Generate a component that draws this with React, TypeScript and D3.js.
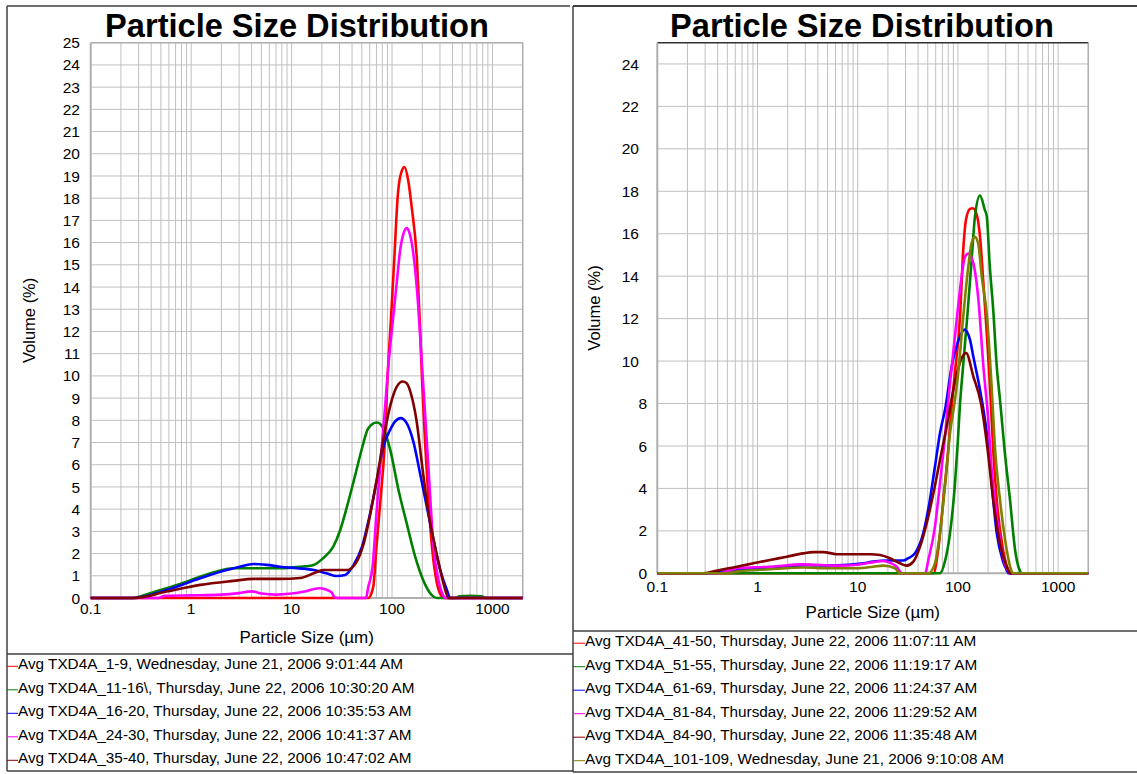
import React from 'react';
import * as d3 from 'd3';

type Pt = [number, number];

const X_TICKS = [0.1, 1, 10, 100, 1000];
const X_TICK_LABELS = ['0.1', '1', '10', '100', '1000'];
const LEFT_Y_TICKS = [0, 1, 2, 3, 4, 5, 6, 7, 8, 9, 10, 11, 12, 13, 14, 15, 16, 17, 18, 19, 20, 21, 22, 23, 24, 25];
const RIGHT_Y_TICKS = [0, 2, 4, 6, 8, 10, 12, 14, 16, 18, 20, 22, 24];

const TITLE = 'Particle Size Distribution';
const X_TITLE = 'Particle Size (µm)';
const Y_TITLE = 'Volume (%)';

// ---- Left chart series ----
const L_RED: Pt[] = [[0.1, 0], [58, 0], [65, 0.5], [70, 2.3], [77, 4.5], [84, 6.7], [90, 9.8], [98, 12.7], [106, 15.5], [114, 18.1], [121, 19.0], [133, 19.4], [145, 18.8], [157, 17.6], [177, 15.2], [190, 12.2], [200, 9.6], [214, 6.9], [232, 4.2], [250, 2.3], [279, 0.7], [310, 0.1], [335, 0], [2000, 0]];
const L_GREEN: Pt[] = [[0.1, 0], [0.26, 0], [0.39, 0.21], [0.57, 0.44], [0.84, 0.69], [1.23, 0.96], [1.8, 1.19], [2.6, 1.34], [5.6, 1.34], [7.7, 1.34], [12, 1.4], [16.6, 1.49], [20.6, 1.79], [26, 2.31], [30.5, 3.06], [35.6, 4.11], [43.5, 5.62], [50.8, 6.82], [58, 7.64], [70.6, 7.9], [82, 7.64], [96, 6.67], [116, 4.86], [140, 3.36], [170, 1.86], [204, 0.81], [249, 0.13], [279, 0], [430, 0], [470, 0.08], [600, 0.1], [780, 0.08], [850, 0], [2000, 0]];
const L_BLUE: Pt[] = [[0.1, 0], [0.27, 0], [0.57, 0.36], [1.23, 0.89], [2.26, 1.26], [3.06, 1.41], [4.17, 1.53], [5.65, 1.49], [7.66, 1.41], [11.3, 1.34], [16.6, 1.26], [22.3, 1.11], [28.2, 0.99], [34.2, 1.04], [41.5, 1.49], [50.3, 2.31], [60.6, 3.81], [70.6, 5.3], [82.2, 6.82], [95.7, 7.57], [107, 7.94], [122, 8.1], [140, 7.87], [163, 7.04], [190, 5.62], [222, 4.11], [259, 2.61], [302, 1.26], [352, 0.36], [380, 0], [2000, 0]];
const L_MAGENTA: Pt[] = [[0.1, 0], [0.47, 0], [0.55, 0.1], [1, 0.12], [2, 0.15], [3, 0.22], [4, 0.3], [5, 0.2], [7, 0.15], [10, 0.2], [13, 0.28], [16, 0.38], [19, 0.44], [22, 0.38], [25, 0.25], [27, 0.02], [29, 0], [55, 0], [58, 0.5], [64, 1.4], [70, 3.8], [78, 6.5], [85, 8.5], [92, 10.5], [102, 12.5], [112, 14.3], [120, 15.6], [130, 16.4], [140, 16.65], [150, 16.4], [157, 16.0], [177, 13.9], [198, 10.6], [214, 8.2], [231, 5.8], [259, 2.3], [290, 0.8], [320, 0.15], [340, 0], [2000, 0]];
const L_BROWN: Pt[] = [[0.1, 0], [0.27, 0], [0.57, 0.29], [1.23, 0.59], [2.63, 0.77], [4.17, 0.86], [7.66, 0.86], [12.2, 0.9], [16.6, 1.11], [20.6, 1.26], [35.6, 1.26], [43.5, 1.56], [52.3, 2.46], [62.8, 4.11], [73.3, 5.77], [85.4, 7.57], [99.5, 8.92], [111.6, 9.52], [127.7, 9.75], [140, 9.67], [157, 9.07], [177, 7.87], [198, 6.07], [231, 3.81], [268, 2.31], [302, 1.26], [325, 0.66], [366, 0], [2000, 0]];

const LEFT_NAMES = [
  'Avg TXD4A_1-9, Wednesday, June 21, 2006 9:01:44 AM',
  'Avg TXD4A_11-16\\, Thursday, June 22, 2006 10:30:20 AM',
  'Avg TXD4A_16-20, Thursday, June 22, 2006 10:35:53 AM',
  'Avg TXD4A_24-30, Thursday, June 22, 2006 10:41:37 AM',
  'Avg TXD4A_35-40, Thursday, June 22, 2006 10:47:02 AM',
];
const LEFT_COLORS = ['#ff0000', '#008000', '#0000ff', '#ff00ff', '#800000'];
const LEFT_SERIES = [L_RED, L_GREEN, L_BLUE, L_MAGENTA, L_BROWN];

// ---- Right chart series ----
const R_RED: Pt[] = [[0.1, 0], [57, 0], [63.5, 1.1], [71.5, 3.46], [80, 5.8], [87, 8.0], [94, 9.6], [105, 12.1], [113, 15.25], [120.5, 16.67], [132, 17.17], [140.6, 17.2], [154, 16.9], [166, 15.88], [179.5, 13.68], [194, 11.32], [208, 8.96], [225, 5.82], [244, 3.46], [282, 1.1], [318, 0.15], [335, 0], [2000, 0]];
const R_GREEN: Pt[] = [[0.1, 0], [66, 0], [74.8, 0.63], [83.4, 1.89], [93.5, 4.24], [100, 6.3], [105, 8.0], [110, 9.2], [124, 12.1], [137, 14.78], [148, 16.82], [166, 17.8], [185, 17.14], [194, 16.82], [208, 14.46], [225, 12.42], [244, 9.75], [263, 8.17], [292, 5.82], [331, 3.46], [372, 1.1], [417, 0.1], [432, 0], [2000, 0]];
const R_BLUE: Pt[] = [[0.1, 0], [0.3, 0], [0.6, 0.15], [1, 0.25], [2, 0.33], [3, 0.38], [5, 0.37], [8, 0.4], [11.4, 0.47], [14.3, 0.55], [20, 0.6], [25, 0.6], [28.5, 0.6], [32, 0.71], [37.3, 0.94], [45.1, 1.89], [52.5, 3.46], [59, 5.03], [66.2, 6.6], [75, 7.8], [86.7, 9.75], [105, 11.16], [116, 11.48], [132, 11.0], [142.6, 10.2], [166, 8.65], [194, 6.6], [210, 5.0], [244, 1.89], [280, 0.6], [307, 0.15], [320, 0], [2000, 0]];
const R_MAGENTA: Pt[] = [[0.1, 0], [0.42, 0], [0.62, 0.24], [1.33, 0.31], [2.86, 0.42], [6.17, 0.36], [10, 0.4], [13.3, 0.5], [18, 0.58], [21, 0.5], [24.5, 0.31], [27.6, 0], [47, 0], [50.7, 0.63], [59, 2.2], [66.2, 4.24], [74.8, 6.6], [80.2, 8.17], [88, 10.0], [98, 12.1], [109, 14.0], [118, 14.93], [127, 15.06], [142.6, 14.6], [160, 12.9], [179.5, 9.75], [201, 7.2], [216, 5.03], [244, 2.67], [282, 0.78], [318, 0.1], [331, 0], [2000, 0]];
const R_BROWN: Pt[] = [[0.1, 0], [0.29, 0], [0.42, 0.16], [0.62, 0.31], [0.91, 0.47], [1.33, 0.63], [1.96, 0.78], [2.86, 0.94], [3.6, 1.0], [4.54, 1.0], [6.17, 0.9], [13.3, 0.9], [16.7, 0.86], [21, 0.71], [26.4, 0.47], [30.8, 0.36], [35.9, 0.55], [41.9, 1.26], [48.8, 2.36], [56.9, 3.77], [66.2, 5.34], [77.3, 6.92], [90, 8.65], [109, 10.14], [120.5, 10.38], [142.6, 9.27], [170, 8.0], [198, 5.82], [225, 3.46], [263, 1.41], [307, 0.31], [331, 0], [2000, 0]];
const R_OLIVE: Pt[] = [[0.1, 0], [0.49, 0], [0.62, 0.08], [1.33, 0.19], [2.86, 0.27], [5.3, 0.24], [9.8, 0.24], [14.3, 0.31], [18, 0.36], [23.6, 0.24], [26, 0], [50.7, 0], [59, 0.47], [66.2, 1.89], [74.8, 4.24], [83.4, 6.6], [93.5, 8.17], [101, 9.5], [113, 12.1], [127, 14.46], [137, 15.57], [148, 15.85], [160, 15.49], [172.6, 14.0], [195, 12.1], [216, 8.96], [235, 5.82], [263, 3.46], [307, 1.1], [343, 0.1], [355, 0], [2000, 0]];

const RIGHT_NAMES = [
  'Avg TXD4A_41-50, Thursday, June 22, 2006 11:07:11 AM',
  'Avg TXD4A_51-55, Thursday, June 22, 2006 11:19:17 AM',
  'Avg TXD4A_61-69, Thursday, June 22, 2006 11:24:37 AM',
  'Avg TXD4A_81-84, Thursday, June 22, 2006 11:29:52 AM',
  'Avg TXD4A_84-90, Thursday, June 22, 2006 11:35:48 AM',
  'Avg TXD4A_101-109, Wednesday, June 21, 2006 9:10:08 AM',
];
const RIGHT_COLORS = ['#ff0000', '#008000', '#0000ff', '#ff00ff', '#800000', '#808000'];
const RIGHT_SERIES = [R_RED, R_GREEN, R_BLUE, R_MAGENTA, R_BROWN, R_OLIVE];

const FONT = '"Liberation Sans", Arial, Helvetica, sans-serif';

interface PanelProps {
  left: number; right: number; top: number; bottom: number;
  yTicks: number[];
  yLabelRight: number;
  yLabelRightMulti: number;
  xLabelBaseline: number;
  xTitleBaseline: number;
  yTitleX: number;
  titleX: number;
  topStroke: string;
  series: Pt[][];
  colors: string[];
  names: string[];
  legendTextX: number;
  legendLineX0: number;
  legendBaseline0: number;
}

function Plot(p: PanelProps) {
  const x = d3.scaleLog().domain([0.1, 2000]).range([p.left, p.right]);
  const y = d3.scaleLinear().domain([0, 25]).range([p.bottom, p.top]);
  const minor: number[] = [];
  [0.1, 1, 10, 100, 1000].forEach((dec) => {
    for (let m = 1; m <= 9; m++) {
      const v = dec * m;
      if (v <= 2000) minor.push(v);
    }
  });
  const line = d3.line<Pt>().x((d) => x(d[0])).y((d) => y(d[1])).curve(d3.curveMonotoneX);
  const cy = (p.top + p.bottom) / 2;
  const cx = (p.left + p.right) / 2;
  return (
    <g>
      <text x={p.titleX} y={37} textAnchor="middle" fontFamily={FONT} fontWeight="bold" fontSize={32.6} fill="#000">{TITLE}</text>
      {minor.map((v, i) => (
        <line key={'v' + i} x1={x(v)} x2={x(v)} y1={p.top} y2={p.bottom} stroke="#c0c0c0" strokeWidth={1} />
      ))}
      {p.yTicks.map((v) => (
        <line key={'h' + v} x1={p.left} x2={p.right} y1={y(v)} y2={y(v)} stroke="#c0c0c0" strokeWidth={1} />
      ))}
      <line x1={p.left} x2={p.right} y1={p.top} y2={p.top} stroke={p.topStroke} strokeWidth={1.5} />
      <line x1={p.right} x2={p.right} y1={p.top} y2={p.bottom} stroke="#b0b0b0" strokeWidth={1.5} />
      <line x1={p.left} x2={p.left} y1={p.top} y2={p.bottom} stroke="#b0b0b0" strokeWidth={2} />
      <line x1={p.left} x2={p.right} y1={p.bottom} y2={p.bottom} stroke="#b0b0b0" strokeWidth={2} />
      {p.yTicks.map((v) => (
        <text key={'yl' + v} x={String(v).length > 1 ? p.yLabelRightMulti : p.yLabelRight} y={y(v)} dy="0.36em" textAnchor="end" fontFamily={FONT} fontSize={15.5} fill="#000">{String(v)}</text>
      ))}
      {X_TICKS.map((v, i) => (
        <text key={'xl' + v} x={x(v)} y={p.xLabelBaseline} textAnchor="middle" fontFamily={FONT} fontSize={15.5} fill="#000">{X_TICK_LABELS[i]}</text>
      ))}
      <text x={cx} y={p.xTitleBaseline} textAnchor="middle" fontFamily={FONT} fontSize={17} fill="#000">{X_TITLE}</text>
      <text transform={`translate(${p.yTitleX},${cy}) rotate(-90)`} textAnchor="middle" fontFamily={FONT} fontSize={16.5} fill="#000">{Y_TITLE}</text>
      <g>
        {p.series.map((s, i) => (
          <path key={'s' + i} d={line(s) || ''} fill="none" stroke={p.colors[i]} strokeWidth={2.6} strokeLinejoin="round" />
        ))}
      </g>
      {p.names.map((n, i) => {
        const by = p.legendBaseline0 + i * 23.5;
        return (
          <g key={'lg' + i}>
            <line x1={p.legendLineX0} x2={p.legendTextX} y1={by - 3} y2={by - 3} stroke={p.colors[i]} strokeWidth={1} />
            <text x={p.legendTextX} y={by} fontFamily={FONT} fontSize={15.3} fill="#000">{n}</text>
          </g>
        );
      })}
    </g>
  );
}

export default function App() {
  return (
    <svg width={1137} height={774} style={{ position: 'absolute', left: 0, top: 0, background: '#fff' }}>
      <rect x={0} y={0} width={1137} height={774} fill="#fff" />
      {/* left panel frame (its right edge is shared with the right panel) */}
      <line x1={7} x2={7} y1={6} y2={771} stroke="#404040" strokeWidth={1.5} />
      <line x1={7} x2={570} y1={6} y2={6} stroke="#404040" strokeWidth={1.5} />
      <line x1={7} x2={573} y1={771} y2={771} stroke="#404040" strokeWidth={1.5} />
      <line x1={7} x2={573} y1={654} y2={654} stroke="#404040" strokeWidth={1.5} />
      {/* right panel frame */}
      <line x1={573} x2={573} y1={6} y2={772} stroke="#404040" strokeWidth={1.5} />
      <line x1={573} x2={1137} y1={6} y2={6} stroke="#404040" strokeWidth={2} />
      <line x1={573} x2={1137} y1={772} y2={772} stroke="#404040" strokeWidth={1.5} />
      <line x1={573} x2={1137} y1={631} y2={631} stroke="#404040" strokeWidth={1.5} />
      <Plot
        left={90.7} right={522.7} top={42.7} bottom={598}
        yTicks={LEFT_Y_TICKS} yLabelRight={80} yLabelRightMulti={80} xLabelBaseline={613.5} xTitleBaseline={643}
        yTitleX={35} titleX={297} topStroke="#b0b0b0"
        series={LEFT_SERIES} colors={LEFT_COLORS} names={LEFT_NAMES}
        legendTextX={18} legendLineX0={7} legendBaseline0={669.3}
      />
      <Plot
        left={657.3} right={1088.3} top={42.7} bottom={573.3}
        yTicks={RIGHT_Y_TICKS} yLabelRight={647} yLabelRightMulti={639} xLabelBaseline={592} xTitleBaseline={618}
        yTitleX={600} titleX={862} topStroke="#303030"
        series={RIGHT_SERIES} colors={RIGHT_COLORS} names={RIGHT_NAMES}
        legendTextX={585} legendLineX0={573} legendBaseline0={646.2}
      />
    </svg>
  );
}
